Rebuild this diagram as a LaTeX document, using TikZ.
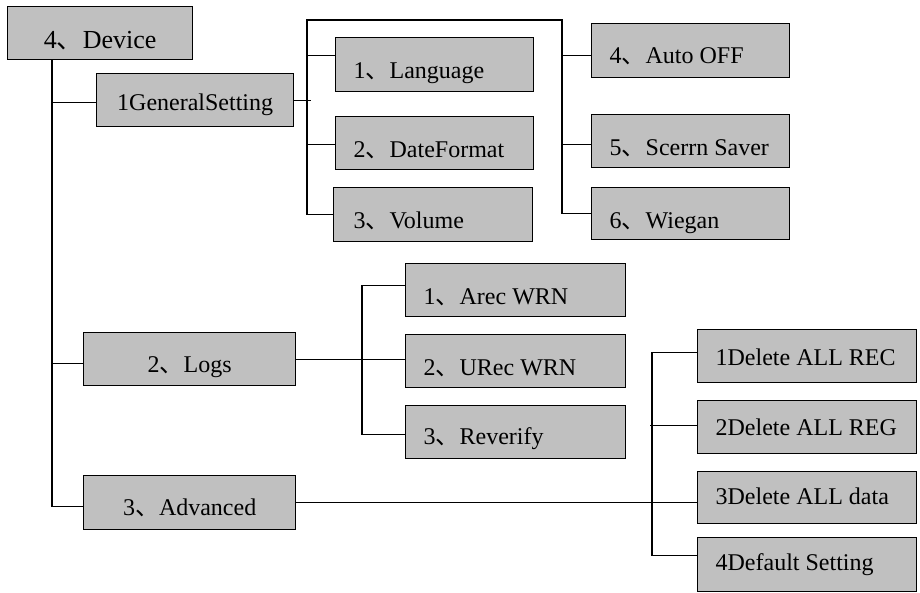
\documentclass[tikz,border=0pt]{standalone}
\usepackage{fontspec}
\setmainfont{Liberation Serif}
\newfontfamily\cjkfont{Noto Sans CJK SC}
\newcommand\dun{{\cjkfont 、}}
\newcommand\lt[2]{\makebox[#1][l]{#2}}
\definecolor{boxgray}{RGB}{192,192,192}
\begin{document}
\begin{tikzpicture}[x=1pt,y=-1pt,
  box/.style={draw=black, line width=1.3pt, fill=boxgray, anchor=north west,
    inner xsep=0pt, inner ysep=0pt, text depth=0pt,
    font=\fontsize{24}{28}\selectfont},
  lbox/.style={box, inner xsep=18pt},
  cbox/.style={box, align=center},
  conn/.style={draw=black, line width=1.1pt}
]
\useasboundingbox (0,0) rectangle (920,592);

% level 0 / 1
\node[cbox, minimum width=185pt, minimum height=53pt, text height=31pt,
      font=\fontsize{26}{30}\selectfont] (Device) at (7,6) {4\dun Device};
\node[cbox, minimum width=197pt, minimum height=53pt, text height=21pt] (General) at (96,73) {1GeneralSetting};
\node[cbox, minimum width=212pt, minimum height=53pt, text height=26pt] (Logs) at (83,332) {2\dun Logs};
\node[cbox, minimum width=212pt, minimum height=54pt, text height=26pt] (Advanced) at (83,475) {3\dun Advanced};

% general setting children
\node[lbox, minimum height=54pt, text height=28pt] (Language) at (335,37) {\lt{162pt}{1\dun Language}};
\node[lbox, minimum height=53pt, text height=28pt] (DateFormat) at (335,116) {\lt{162pt}{2\dun DateFormat}};
\node[lbox, inner xsep=20pt, minimum height=54pt, text height=28pt] (Volume) at (333,187) {\lt{159pt}{3\dun Volume}};
\node[lbox, minimum height=54pt, text height=26pt] (AutoOff) at (591,23) {\lt{162pt}{4\dun Auto OFF}};
\node[lbox, minimum height=53pt, text height=29pt] (Saver) at (591,114) {\lt{162pt}{5\dun Scerrn Saver}};
\node[lbox, minimum height=52pt, text height=30pt] (Wiegan) at (591,187) {\lt{162pt}{6\dun Wiegan}};

% logs children
\node[lbox, minimum height=53pt, text height=28pt] (Arec) at (405,263) {\lt{184pt}{1\dun Arec WRN}};
\node[lbox, minimum height=53pt, text height=29pt] (URec) at (405,334) {\lt{184pt}{2\dun URec WRN}};
\node[lbox, minimum height=53pt, text height=25pt] (Reverify) at (405,405) {\lt{184pt}{3\dun Reverify}};

% advanced children
\node[lbox, minimum height=53pt, text height=19pt] (DelRec) at (697,329) {\lt{183pt}{1Delete ALL REC}};
\node[lbox, minimum height=53pt, text height=17pt] (DelReg) at (697,400) {\lt{183pt}{2Delete ALL REG}};
\node[lbox, minimum height=52pt, text height=14pt] (DelData) at (697,471) {\lt{183pt}{3Delete ALL data}};
\node[lbox, minimum height=54pt, text height=12pt] (Default) at (697,537) {\lt{183pt}{4Default Setting}};

% trunk from Device
\draw[conn] ([xshift=45pt]Device.south west) |- ([yshift=-4pt]Advanced.west);
\draw[conn] ([xshift=45pt]Device.south west) |- ([yshift=-2.5pt]General.west);
\draw[conn] ([xshift=45pt]Device.south west) |- ([yshift=-4.5pt]Logs.west);

% general setting branches
\draw[conn] (General.east) -- ++(17,0);
\coordinate (gtop) at (307,20);
\coordinate (gtopR) at (562,20);
\draw[conn] (Volume.west) -| (gtop) -- (gtopR) |- (Wiegan.west);
\draw[conn] ([yshift=9pt]Language.west) -- ++(-28,0);
\draw[conn] ([yshift=-1.5pt]DateFormat.west) -- ++(-28,0);
\draw[conn] ([yshift=-5pt]AutoOff.west) -- ++(-29,0);
\draw[conn] ([yshift=-3.5pt]Saver.west) -- ++(-29,0);

% logs branches
\draw[conn] (Logs.east) -- (Logs.east -| URec.west);
\draw[conn] ([yshift=4.5pt]Arec.west) -- ++(-43,0) |- ([yshift=-2.5pt]Reverify.west);

% advanced branches
\draw[conn] (Advanced.east) -- (Advanced.east -| DelData.west);
\draw[conn] ([yshift=3.5pt]DelRec.west) -- ++(-45,0) |- ([yshift=9pt]Default.west);
\draw[conn] ([yshift=1.5pt]DelReg.west) -- ++(-47,0);
\end{tikzpicture}
\end{document}
